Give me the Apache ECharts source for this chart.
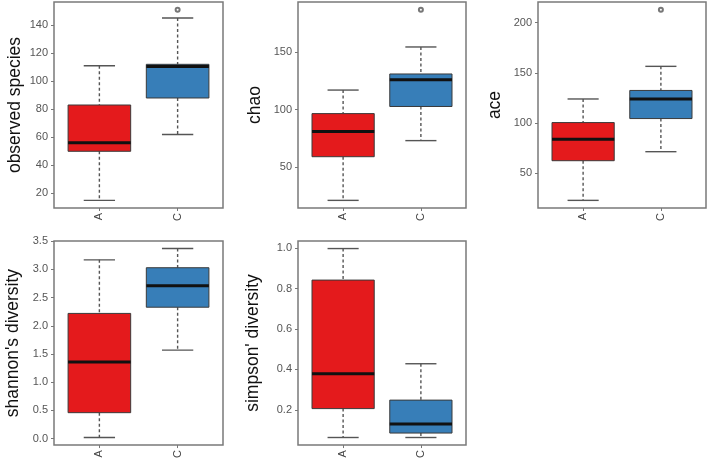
<!DOCTYPE html>
<html>
<head>
<meta charset="utf-8">
<script src="https://cdn.jsdelivr.net/npm/echarts@6/dist/echarts.min.js"></script>
<style>html,body{margin:0;padding:0;background:#fff}#c{width:709px;height:461px}</style>
</head>
<body>
<div id="c"></div>
<script>
// ---- data ----
var groups = ['A', 'C'];
var groupPos = [1, 2];
var boxColors = ['#E41A1C', '#377EB8'];

// each: [min, Q1, median, Q3, max] per group
var observedA = [15, 50, 56, 83, 111];
var observedC = [62, 88, 110.5, 112, 145];
var observedOut = [[2, 151]];
var observedTicks = [20, 40, 60, 80, 100, 120, 140];

var chaoA = [21, 59, 81, 96.5, 117];
var chaoC = [73, 102.7, 126, 131, 154.5];
var chaoOut = [[2, 187]];
var chaoTicks = [50, 100, 150];

var aceA = [23, 62.5, 84, 100.5, 124];
var aceC = [71.5, 104.5, 124, 132.5, 156.5];
var aceOut = [[2, 213]];
var aceTicks = [50, 100, 150, 200];

var shannonA = [0.02, 0.46, 1.36, 2.22, 3.17];
var shannonC = [1.57, 2.33, 2.71, 3.03, 3.37];
var shannonOut = [];
var shannonTicks = [0, 0.5, 1.0, 1.5, 2.0, 2.5, 3.0, 3.5];

var simpsonA = [0.063, 0.206, 0.378, 0.842, 0.998];
var simpsonC = [0.063, 0.085, 0.13, 0.248, 0.428];
var simpsonOut = [];
var simpsonTicks = [0.2, 0.4, 0.6, 0.8, 1.0];

var titles = ['observed species', 'chao', 'ace', "shannon's diversity", "simpson' diversity"];

// ---- layout ----
var panels = [
  {A: observedA, C: observedC, out: observedOut, ticks: observedTicks, dec: 0, grid: {left: 54, top: 2, width: 169, height: 206}, gap: 30},
  {A: chaoA, C: chaoC, out: chaoOut, ticks: chaoTicks, dec: 0, grid: {left: 298, top: 2, width: 168, height: 206}, gap: 34},
  {A: aceA, C: aceC, out: aceOut, ticks: aceTicks, dec: 0, grid: {left: 538, top: 2, width: 168, height: 206}, gap: 34},
  {A: shannonA, C: shannonC, out: shannonOut, ticks: shannonTicks, dec: 1, grid: {left: 54, top: 241, width: 169, height: 206}, gap: 32},
  {A: simpsonA, C: simpsonC, out: simpsonOut, ticks: simpsonTicks, dec: 1, grid: {left: 298, top: 241, width: 168, height: 206}, gap: 36}
];

var font = 'Liberation Sans, Arial, Helvetica, sans-serif';
var grids = [], xAxes = [], yAxes = [], series = [];

function renderBox(params, api) {
  var x = api.value(0);
  var pLo = api.coord([x, api.value(1)]);
  var pQ1 = api.coord([x, api.value(2)]);
  var pMd = api.coord([x, api.value(3)]);
  var pQ3 = api.coord([x, api.value(4)]);
  var pHi = api.coord([x, api.value(5)]);
  var hw = api.size([0.8, 0])[0] / 2;
  var cw = hw / 2;
  var cx = pLo[0];
  var wStyle = {stroke: '#555', lineWidth: 1.4, lineDash: [3, 2.5]};
  var cStyle = {stroke: '#555', lineWidth: 1.4};
  return {
    type: 'group',
    children: [
      {type: 'line', shape: {x1: cx, y1: pHi[1], x2: cx, y2: pQ3[1]}, style: wStyle},
      {type: 'line', shape: {x1: cx, y1: pQ1[1], x2: cx, y2: pLo[1]}, style: wStyle},
      {type: 'line', shape: {x1: cx - cw, y1: pHi[1], x2: cx + cw, y2: pHi[1]}, style: cStyle},
      {type: 'line', shape: {x1: cx - cw, y1: pLo[1], x2: cx + cw, y2: pLo[1]}, style: cStyle},
      {type: 'rect', shape: {x: cx - hw, y: pQ3[1], width: 2 * hw, height: pQ1[1] - pQ3[1]},
        style: {fill: boxColors[params.dataIndex], stroke: '#3a3a3a', lineWidth: 1}},
      {type: 'line', shape: {x1: cx - hw, y1: pMd[1], x2: cx + hw, y2: pMd[1]}, style: {stroke: '#111', lineWidth: 3}}
    ]
  };
}

panels.forEach(function (p, i) {
  var all = p.A.concat(p.C).concat(p.out.map(function (o) { return o[1]; }));
  var lo = Math.min.apply(null, all), hi = Math.max.apply(null, all);
  var span = hi - lo;
  grids.push(Object.assign({show: true, borderColor: '#7a7a7a', borderWidth: 1.5, backgroundColor: 'transparent'}, p.grid));
  xAxes.push({
    type: 'value', gridIndex: i, min: 0.42, max: 2.58, position: 'bottom',
    axisLine: {show: false, onZero: false}, splitLine: {show: false},
    axisTick: {show: true, customValues: groupPos, length: 3, lineStyle: {color: '#777'}},
    axisLabel: {customValues: groupPos, rotate: 90, margin: 5, color: '#444', fontSize: 11, fontFamily: font,
      formatter: function (v) { return groups[groupPos.indexOf(Math.round(v))] || ''; }}
  });
  yAxes.push({
    type: 'value', gridIndex: i, min: lo - 0.04 * span, max: hi + 0.04 * span, position: 'left',
    axisLine: {show: false, onZero: false}, splitLine: {show: false},
    axisTick: {show: true, customValues: p.ticks, length: 3, lineStyle: {color: '#777'}},
    axisLabel: {customValues: p.ticks, margin: 6, color: '#555', fontSize: 11, fontFamily: font,
      formatter: (function (d) { return function (v) { return Number(v).toFixed(d); }; })(p.dec)},
    name: titles[i], nameLocation: 'middle', nameRotate: 90, nameGap: p.gap,
    nameTextStyle: {fontSize: 17.5, color: '#111', fontFamily: font}
  });
  series.push({
    type: 'custom', xAxisIndex: i, yAxisIndex: i,
    renderItem: renderBox,
    encode: {x: 0, y: [1, 2, 3, 4, 5]},
    data: [[groupPos[0]].concat(p.A), [groupPos[1]].concat(p.C)],
    z: 2
  });
  if (p.out.length) {
    series.push({
      type: 'scatter', xAxisIndex: i, yAxisIndex: i, symbol: 'emptyCircle', symbolSize: 4,
      itemStyle: {color: '#555', borderColor: '#555', borderWidth: 1},
      data: p.out, z: 3
    });
  }
});

var chart = echarts.init(document.getElementById('c'), null, {renderer: 'canvas'});
chart.setOption({
  animation: false,
  backgroundColor: '#fff',
  grid: grids, xAxis: xAxes, yAxis: yAxes, series: series
});
</script>
</body>
</html>
